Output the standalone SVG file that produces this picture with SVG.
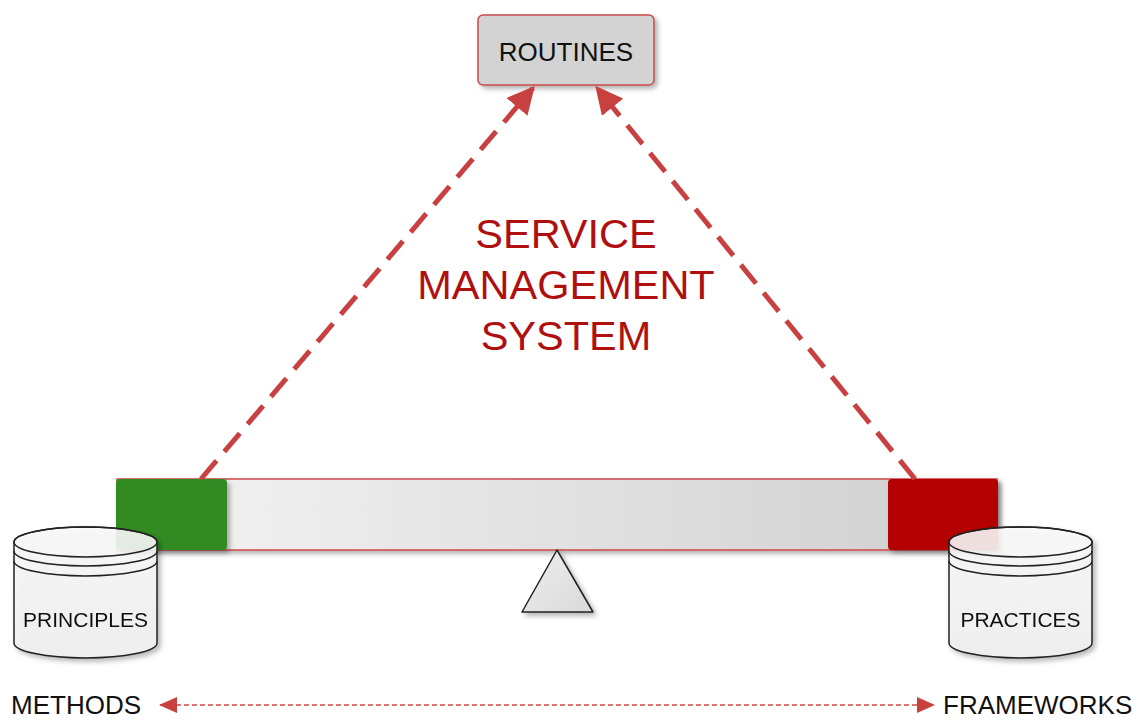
<svg xmlns="http://www.w3.org/2000/svg" width="1137" height="720" viewBox="0 0 1137 720">
<style>
.lbl{font-family:"Liberation Sans",Arial,sans-serif;fill:#111}
.title{font-family:"Liberation Sans",Arial,sans-serif;fill:#b00f0f;font-size:41.5px;text-anchor:middle}
.cyl{fill:url(#cylG);fill-opacity:0.88;stroke:#222;stroke-width:1.5}
.ring{fill:none;stroke:#222;stroke-width:1.5}
.dash{fill:none;stroke:#c8403f;stroke-width:5;stroke-dasharray:24 12}
</style>
<defs>
<linearGradient id="barG" x1="0" y1="0" x2="1" y2="0">
<stop offset="0" stop-color="#f4f4f4"/>
<stop offset="1" stop-color="#cfcfcf"/>
</linearGradient>
<linearGradient id="cylG" x1="0" y1="0" x2="0" y2="1">
<stop offset="0" stop-color="#fafafa"/>
<stop offset="1" stop-color="#f0f0f0"/>
</linearGradient>
<linearGradient id="triG" x1="0" y1="0" x2="1" y2="1">
<stop offset="0" stop-color="#efefef"/>
<stop offset="1" stop-color="#d9d9d9"/>
</linearGradient>
<filter id="sh" x="-10%" y="-10%" width="130%" height="140%">
<feDropShadow dx="3" dy="3" stdDeviation="2.5" flood-color="#000" flood-opacity="0.3"/>
</filter>
<marker id="bigArrow" viewBox="0 0 10 10" refX="9" refY="5" markerWidth="5.5" markerHeight="5.5" orient="auto" markerUnits="strokeWidth">
<path d="M0,0 L10,5 L0,10 Z" fill="#c8403f"/>
</marker>
<marker id="smArrow2" viewBox="0 0 18 16" refX="17" refY="8" markerWidth="18" markerHeight="16" orient="auto-start-reverse" markerUnits="userSpaceOnUse">
<path d="M0,0 L18,8 L0,16 Z" fill="#c8403f"/>
</marker>
</defs>

<g id="routines">
<rect x="478" y="15" width="176" height="70" rx="5" fill="#d3d3d3" stroke="#c84a4a" stroke-width="1.5" filter="url(#sh)"/>
<text class="lbl" x="566" y="61" font-size="26" text-anchor="middle">ROUTINES</text>
</g>

<g id="title">
<text class="title" x="566" y="248">SERVICE</text>
<text class="title" x="566" y="299">MANAGEMENT</text>
<text class="title" x="566" y="350">SYSTEM</text>
</g>

<g id="balance">
<rect x="117" y="479" width="880" height="71" fill="url(#barG)" stroke="#d04848" stroke-width="1.5" filter="url(#sh)"/>
<rect id="green-end" x="116" y="479" width="111" height="71" rx="4" fill="#318b22" filter="url(#sh)"/>
<rect id="red-end" x="888" y="479" width="110" height="71" rx="4" fill="#b30000" filter="url(#sh)"/>
</g>

<g id="fulcrum">
<path d="M557,550 L522,612 L593,612 Z" fill="url(#triG)" stroke="#222" stroke-width="1.5" stroke-linejoin="round" filter="url(#sh)"/>
</g>

<g id="connectors">
<line class="dash" x1="201" y1="479" x2="533" y2="88" marker-end="url(#bigArrow)"/>
<line class="dash" x1="915" y1="479" x2="597" y2="88" marker-end="url(#bigArrow)"/>
<line x1="160" y1="705" x2="934" y2="705" stroke="#d04848" stroke-width="1.5" stroke-dasharray="5 3" marker-start="url(#smArrow2)" marker-end="url(#smArrow2)"/>
</g>

<g id="principles" filter="url(#sh)">
<path class="cyl" d="M14,542 A71.5,15 0 0 1 157,542 L157,643 A71.5,15 0 0 1 14,643 Z"/>
<ellipse class="ring" cx="85.5" cy="542" rx="71.5" ry="15"/>
<path class="ring" d="M14,551 A71.5,15 0 0 0 157,551"/>
<path class="ring" d="M14,561 A71.5,15 0 0 0 157,561"/>
<text class="lbl" x="85.5" y="627" font-size="21" text-anchor="middle">PRINCIPLES</text>
</g>

<g id="practices" filter="url(#sh)">
<path class="cyl" d="M949,542 A71.5,15 0 0 1 1092,542 L1092,643 A71.5,15 0 0 1 949,643 Z"/>
<ellipse class="ring" cx="1020.5" cy="542" rx="71.5" ry="15"/>
<path class="ring" d="M949,551 A71.5,15 0 0 0 1092,551"/>
<path class="ring" d="M949,561 A71.5,15 0 0 0 1092,561"/>
<text class="lbl" x="1020.5" y="627" font-size="21" text-anchor="middle">PRACTICES</text>
</g>

<g id="methods">
<text class="lbl" x="11" y="714" font-size="26">METHODS</text>
</g>
<g id="frameworks">
<text class="lbl" x="943" y="714" font-size="26">FRAMEWORKS</text>
</g>
</svg>
